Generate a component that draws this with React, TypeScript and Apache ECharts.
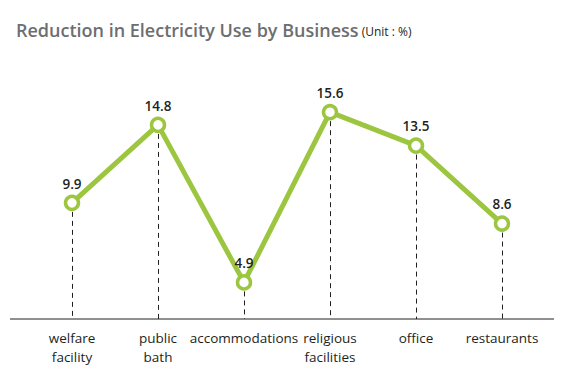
import React, { useEffect, useRef } from "react";
import * as echarts from "echarts";

const categories = ["welfare\nfacility", "public\nbath", "accommodations", "religious\nfacilities", "office", "restaurants"];
const values = [9.9, 14.8, 4.9, 15.6, 13.5, 8.6];
const yMin = 2.6;
const yMax = 18;

export default function App() {
  const ref = useRef<HTMLDivElement>(null);
  useEffect(() => {
    const chart = echarts.init(ref.current!, null, { renderer: "svg" });
    const dropLines = categories.map((c, i) => [
      { coord: [i, values[i]] },
      { coord: [i, yMin] },
    ]);
    chart.setOption({
      animation: false,
      title: {
        text: "{a|Reduction in Electricity Use by Business}{b| (Unit : %)}",
        left: 11,
        top: 16,
        textStyle: {
          rich: {
            a: { fontFamily: "Open Sans", fontSize: 18, fontWeight: 600, color: "#6d6e71" },
            b: { fontFamily: "Open Sans", fontSize: 12, fontWeight: "normal", color: "#231f20", padding: [3, 0, 0, 0] },
          },
        },
      },
      graphic: [
        { type: "line", shape: { x1: 10, y1: 319, x2: 554, y2: 319 }, style: { stroke: "#231f20", lineWidth: 1 }, z: 1 },
      ],
      grid: { left: 29, right: 27, top: 74, bottom: 71 },
      xAxis: {
        type: "category",
        data: categories,
        boundaryGap: true,
        axisLine: { show: false },
        axisTick: { show: false },
        axisLabel: { fontFamily: "Open Sans", fontSize: 13.5, color: "#231f20", lineHeight: 19, margin: 9, interval: 0 },
      },
      yAxis: { type: "value", min: yMin, max: yMax, show: false },
      series: [
        {
          type: "line",
          data: values,
          lineStyle: { color: "#9dc640", width: 5 },
          itemStyle: { color: "#ffffff", borderColor: "#9dc640", borderWidth: 3.5 },
          symbol: "circle",
          symbolSize: 13,
          label: {
            show: true,
            position: "top",
            distance: 4,
            fontFamily: "Open Sans",
            fontSize: 13.5,
            fontWeight: 600,
            color: "#231f20",
          },
          markLine: {
            silent: true,
            symbol: "none",
            label: { show: false },
            lineStyle: { color: "#231f20", type: [5, 4], width: 1 },
            data: dropLines,
            z: 0,
          },
        },
      ],
    });
    return () => chart.dispose();
  }, []);
  return <div ref={ref} style={{ width: 572, height: 390, position: "absolute", left: 0, top: 0, background: "#fff" }} />;
}
